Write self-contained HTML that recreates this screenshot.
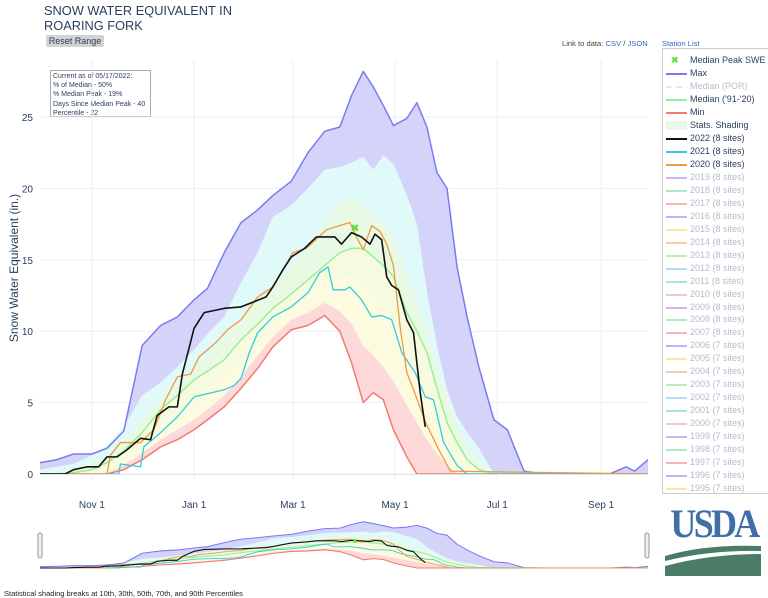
<!DOCTYPE html>
<html><head><meta charset="utf-8">
<style>
body{margin:0;background:#fff;font-family:"Liberation Sans",sans-serif;}
#wrap{position:relative;width:768px;height:598px;overflow:hidden;}
.abs{position:absolute;}
.leg{position:absolute;left:662px;top:48px;width:106px;height:444px;border:1px solid #ccc;border-right:none;overflow:hidden;background:#fff;}
.li{position:absolute;left:0;height:13px;font-size:9px;white-space:nowrap;line-height:13px;}
.li .sw{position:absolute;left:3px;top:6px;width:21px;height:2px;}
.li .tx{position:absolute;left:27px;top:0;}
</style></head>
<body><div id="wrap">
<div class="abs" style="left:44px;top:3px;font-size:12.8px;line-height:15px;color:#2a3f5f;white-space:nowrap">SNOW WATER EQUIVALENT IN<br>ROARING FORK</div>
<div class="abs" style="left:46px;top:35px;width:58px;height:12px;background:#d3d3d3;border-radius:2px;font-size:9px;line-height:12px;text-align:center;color:#2a3f5f">Reset Range</div>
<div class="abs" style="left:562px;top:39px;font-size:7.6px;color:#444;white-space:nowrap">Link to data: <span style="color:#3366cc">CSV</span> / <span style="color:#3366cc">JSON</span></div>
<div class="abs" style="left:662px;top:39px;font-size:7.6px;color:#3366cc">Station List</div>
<div class="abs" style="left:50px;top:70px;width:101px;height:47px;border:1px solid #aaa;background:#fff;font-size:7px;line-height:9.2px;color:#2a3f5f;padding:1px 0 0 2px;box-sizing:border-box;white-space:nowrap">Current as of 05/17/2022:<br>% of Median - 50%<br>% Median Peak - 19%<br>Days Since Median Peak - 40<br>Percentile - 22</div>
<svg id="svg" class="abs" style="left:0;top:0" width="768" height="598"></svg>
<div class="leg" id="leg"></div>
<div class="abs" style="left:665px;top:504px;width:98px;text-align:center;font-family:'Liberation Serif',serif;font-weight:bold;font-size:40px;line-height:40px;color:#3f6ea8;letter-spacing:-3px;transform:scaleX(0.9)">USDA</div>
<svg class="abs" style="left:665px;top:542px" width="96" height="34">
<path d="M0 14 Q40 2 96 4 L96 9 Q45 8 0 19Z" fill="#4a7c66"/>
<path d="M0 24 Q45 12 96 12 L96 34 L0 34Z" fill="#4a7c66"/>
</svg>
<div class="abs" style="left:4px;top:589px;font-size:7.5px;color:#222">Statistical shading breaks at 10th, 30th, 50th, 70th, and 90th Percentiles</div>
</div>
<script>
const days=[0,10,20,31,40,50,61,72,82,92,100,110,120,130,139,150,160,170,179,186,193,199,205,211,219,225,231,237,243,249,255,262,271,279,289,300,320,340,350,355,363];
const maxV=[0.8,1.0,1.4,1.4,1.8,3.0,9.0,10.4,11.0,12.2,13.0,15.5,17.6,18.5,19.5,20.5,22.5,24,24.3,26.5,28.2,27.1,25.8,24.4,24.9,26,24.3,21.1,20,14.5,11,7.5,3.8,3.1,0.2,0,0,0,0.5,0.2,1.0];
const p90=[0.3,0.5,0.7,1.3,2,3.3,5.5,6.4,7.5,8.7,9.8,11,13.4,15.5,18,18.8,20,21.3,21.5,21.8,22.2,21.3,22.3,21.7,19.5,17.5,12.7,9,5.9,4,2.9,1.8,0,0,0,0,0,0,0,0,0];
const p70=[0,0.1,0.3,0.8,1.3,2.3,3.8,5.2,6.4,7.5,8.4,9.6,11,12.2,13.3,14.5,15.8,17.5,19.0,19.2,18.8,18.0,17.5,16.5,14.0,12,10,7.5,5.5,3.5,2,0.8,0,0,0,0,0,0,0,0,0];
const median=[0,0,0.1,0.3,0.8,1.6,2.9,4.5,5.5,6.6,7.2,8,9.4,10.5,11.6,12.6,13.6,14.6,15.5,15.8,15.8,15.2,14.6,13.8,11.3,10,8.5,6,3.6,2.2,1.0,0.3,0,0,0,0,0,0,0,0,0];
const p30=[0,0,0,0.1,0.4,1.1,2.0,3.2,4.2,5.0,5.8,6.8,7.8,9.0,10.2,11.5,12.6,13.6,14.0,13.8,13.2,12.5,11.5,10.5,8.5,7,5.5,4,2,1.2,0.5,0,0,0,0,0,0,0,0,0,0];
const p10=[0,0,0,0,0.1,0.6,1.5,2.4,3.1,3.8,4.5,5.5,6.8,8.3,9.6,10.8,11.3,12,11.4,10.5,9,8.3,7.5,6.5,4.8,3.6,2.4,1.4,0.6,0.1,0,0,0,0,0,0,0,0,0,0,0];
const minV=[0,0,0,0,0,0.3,1.0,1.9,2.4,3.1,3.8,4.7,6.0,7.4,8.9,10.1,10.4,11.1,10.0,7.8,5.0,5.7,5.2,3.1,1.2,0,0,0,0,0,0,0,0,0,0,0,0,0,0,0,0];
const y2022Days=[0,15,20,28,35,40,46,52,60,66,70,77,82,85,92,98,110,120,135,139,145,150,158,165,170,176,180,186,192,197,200,204,207,210,214,219,223,227,230];
const y2022=[0,0,0.3,0.5,0.5,1.2,1.2,1.7,2.5,2.4,4.1,4.7,4.7,7.0,10.2,11.3,11.6,11.7,12.4,13.1,14.3,15.2,15.8,16.6,16.6,16.6,16.1,16.9,16.6,16.1,16.8,16.4,13.8,13.2,12.9,10.8,9.9,5.7,3.3];
const y2021Days=[0,47,48,60,62,72,82,92,110,116,120,125,130,139,150,160,167,172,175,182,185,192,198,204,210,216,224,230,235,241,249,255,363];
const y2021=[0,0,0.7,0.5,1.9,2.9,4.0,5.4,5.9,6.2,6.7,8.5,9.9,11,11.7,12.7,14.1,14.5,12.9,12.9,13.1,12.2,11,11.1,10.8,8.5,7.1,5.4,5.2,2.2,0.6,0,0];
const y2020Days=[0,40,42,48,60,68,75,82,90,95,105,112,120,130,139,151,159,171,179,185,189,193,198,203,207,211,215,219,223,231,239,245,363];
const y2020=[0,0,1.3,2.2,2.2,3.1,5.2,6.8,7.0,8.2,9.2,10.1,10.8,12.4,13.1,15.5,15.8,17.1,17.4,17.6,16.6,15.7,17.4,17.0,16.1,14.6,10.3,7.1,5.9,3.4,1.5,0.2,0];
const peakDay=[188], peakVal=[17.2];
const yTicks=[0,5,10,15,20,25];
const xTickDays=[31,92,151,212,273,335];
const xTickLabels=["Nov 1","Jan 1","Mar 1","May 1","Jul 1","Sep 1"];
const legendNames=["2019","2018","2017","2016","2015","2014","2013","2012","2011","2010","2009","2008","2007","2006","2005","2004","2003","2002","2001","2000","1999","1998","1997","1996","1995","1994"];

const NS="http://www.w3.org/2000/svg", svg=document.getElementById('svg');
const X0=40,X1=648,D1=363;
const xs=d=>X0+(X1-X0)*d/D1;
const yMain=v=>474-v*14.28;
const ySl=v=>568-v*1.64;
function mk(tag,at,parent){const e=document.createElementNS(NS,tag);for(const k in at)e.setAttribute(k,at[k]);(parent||svg).appendChild(e);return e;}
const defs=mk('defs',{});
const cp=mk('clipPath',{id:'clp'},defs);mk('rect',{x:X0,y:60,width:X1-X0,height:420},cp);

yTicks.forEach(t=>{
  const g=mk('line',{x1:X0,x2:X1,y1:yMain(t),y2:yMain(t),stroke:'#eceef7','stroke-width':1});
  
  
  const tx=mk('text',{x:33,y:yMain(t)+4,'text-anchor':'end','font-size':10,fill:'#2a3f5f'});
  tx.textContent=t;
  
  
});
xTickDays.forEach((d,i)=>{
  const g=mk('line',{x1:xs(d),x2:xs(d),y1:60,y2:480,stroke:'#eceef7','stroke-width':1});
  
  
  const tx=mk('text',{x:xs(d),y:508,'text-anchor':'middle','font-size':10,fill:'#2a3f5f'});
  tx.textContent=xTickLabels[i];
  
  
});
const yt=mk('text',{x:0,y:0,'text-anchor':'middle','font-size':12,fill:'#2a3f5f',transform:'translate(18,268) rotate(-90)'});
yt.textContent='Snow Water Equivalent (in.)';



function draw(ys,g,sw){
  const bands=[[maxV,p90,'#d4d4fb'],[p90,p70,'#e0fafa'],[p70,median,'#e8f9e4'],[median,p30,'#f6fbe0'],[p30,p10,'#fdfbdf'],[p10,minV,'#fdd9d9']];
  bands.forEach((b,i)=>{
    let pts=days.map((d,j)=>xs(d)+','+ys(b[0][j]));
    pts=pts.concat(days.map((d,j)=>xs(d)+','+ys(b[1][j])).reverse());
    const p=mk('polygon',{points:pts.join(' '),fill:b[2],stroke:'none'},g);
    
    
  });
  const lines=[[days,maxV,'#7b7bf0','max-line',1.5],[days,median,'#99ee99','median-line',1.5],[days,minV,'#f47a70','min-line',1.5],[y2021Days,y2021,'#33ccdd','line-2021',1.3],[y2020Days,y2020,'#ee9944','line-2020',1.3],[y2022Days,y2022,'#111111','line-2022',1.6]];
  lines.forEach(l=>{
    const p=mk('polyline',{points:l[0].map((d,j)=>xs(d)+','+ys(l[1][j])).join(' '),fill:'none',stroke:l[2],'stroke-width':l[4]*sw,'stroke-linejoin':'round'},g);
    
    
  });
  const m=mk('text',{x:xs(peakDay[0]),y:ys(peakVal[0])+3,'text-anchor':'middle','font-size':sw<1?6:10,'font-weight':'bold',fill:'#66dd44'},g);
  m.textContent='✖';
  
  
}
const gm=mk('g',{'clip-path':'url(#clp)'});


draw(yMain,gm,1);
mk('line',{x1:X0,x2:X1,y1:474.5,y2:474.5,stroke:'#dfe3ee','stroke-width':1});
const gs=mk('g',{});


draw(ySl,gs,0.7);
[38,645].forEach(x=>{
  const h=mk('rect',{x:x,y:533,width:4,height:25,rx:2,fill:'#eee',stroke:'#999','stroke-width':1});
  
  
});

const leg=document.getElementById('leg');
function addLeg(y,txt,col,style,grey){
  const d=document.createElement('div');d.className='li';d.style.top=y+'px';
  
  
  let sw='';
  if(style==='x') sw='<span style="position:absolute;left:8px;top:0;color:#66dd44;font-weight:bold;font-size:9px">✖</span>';
  else if(style==='dash') sw='<span class="sw" style="background:repeating-linear-gradient(90deg,'+col+' 0 6px,transparent 6px 10px)"></span>';
  else if(style==='fill') sw='<span class="sw" style="top:2px;height:9px;background:'+col+'"></span>';
  else sw='<span class="sw" style="background:'+col+'"></span>';
  d.innerHTML=sw+'<span class="tx" style="color:'+(grey?'#b4bccb':'#2a3f5f')+'">'+txt+'</span>';
  leg.appendChild(d);
}
addLeg(5,'Median Peak SWE','','x');
addLeg(18,'Max','#7b7bf0');
addLeg(31,'Median (POR)','#d5f2d5','dash',true);
addLeg(44,"Median ('91-'20)",'#99ee99');
addLeg(57,'Min','#f47a70');
addLeg(70,'Stats. Shading','#eaf8ea','fill');
addLeg(83,'2022 (8 sites)','#111');
addLeg(96,'2021 (8 sites)','#33ccdd');
addLeg(109,'2020 (8 sites)','#ee9944');
const cyc=['#d0b4f5','#a8ecc8','#f7b4b0','#b4b8f7','#f7e8a8','#f7cca8','#c4e8b4','#b4dcf4','#a8e4dc','#f4c4dc'];
legendNames.forEach((n,i)=>addLeg(122+i*12.95,n+(i<13?' (8 sites)':' (7 sites)'),cyc[i%cyc.length],'line',true));
</script>
</body></html>
